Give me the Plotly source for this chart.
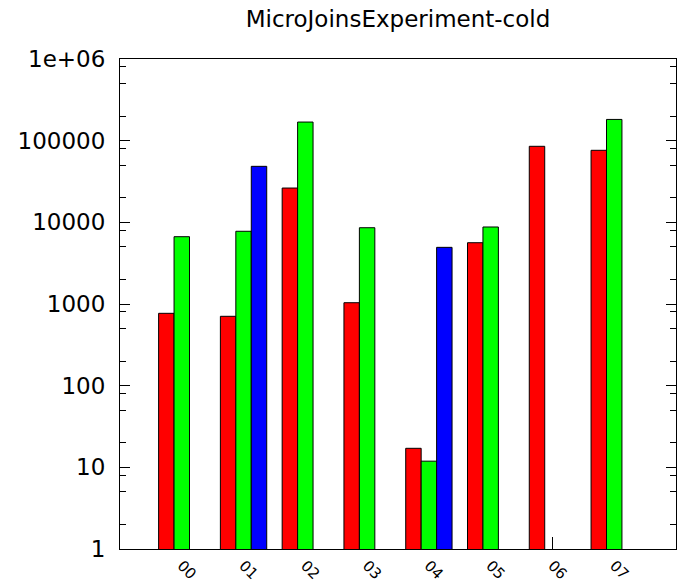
import plotly.graph_objects as go

categories = ["00", "01", "02", "03", "04", "05", "06", "07"]
red_vals = [769, 707, 26300, 1037, 17.1, 5630, 85300, 76200]
green_vals = [6670, 7770, 169000, 8590, 11.9, 8770, None, 182000]
blue_vals = [None, 48500, None, None, 4940, None, None, None]

y_tickvals = [1, 10, 100, 1000, 10000, 100000, 1000000]
y_ticktext = ["1", "10", "100", "1000", "10000", "100000", "1e+06"]
minor_vals = [m * 10 ** d for d in range(6) for m in (2, 5, 8)]

xpos = list(range(len(categories)))

fig = go.Figure()
for vals, col in [(red_vals, "#ff0000"), (green_vals, "#00ff00"), (blue_vals, "#0000ff")]:
    fig.add_trace(go.Bar(
        x=xpos, y=vals, marker=dict(color=col, line=dict(color="black", width=1)),
        showlegend=False,
    ))

FS = 23
W, H = 679, 581
fig.update_layout(
    width=W, height=H,
    margin=dict(l=120, r=3, t=59, b=32, autoexpand=False),
    paper_bgcolor="white", plot_bgcolor="white",
    barmode="group", bargap=0.25, bargroupgap=0,
    font=dict(family="DejaVu Sans", size=FS, color="black"),
    title=dict(text="MicroJoinsExperiment-cold", x=0.5, xref="paper", xanchor="center",
               y=1 - 19 / H, yref="container", yanchor="middle",
               font=dict(family="DejaVu Sans", size=FS, color="black")),
)
fig.update_xaxes(
    range=[-1, 8], tickmode="array", tickvals=xpos, ticktext=categories,
    tickangle=45, ticks="inside", ticklen=12, tickcolor="black", tickwidth=1,
    showline=True, linecolor="black", linewidth=1, mirror=True,
    showgrid=False, zeroline=False, layer="below traces", automargin=False,
    ticklabelstandoff=1,
    tickfont=dict(size=15),
)
fig.update_yaxes(
    type="log", range=[0, 6], tickmode="array", tickvals=y_tickvals, ticktext=y_ticktext,
    ticks="inside", ticklen=10, tickcolor="black", tickwidth=1,
    showline=True, linecolor="black", linewidth=1, mirror="ticks",
    showgrid=False, zeroline=False, ticklabelstandoff=9, automargin=False,
    minor=dict(tickmode="array", tickvals=minor_vals, ticks="inside", ticklen=6,
               tickcolor="black", tickwidth=1, showgrid=False),
    tickfont=dict(size=FS),
)

fig.write_html(
    "out.html",
    config={"displayModeBar": False},
    post_script="document.body.style.margin='0';document.body.style.overflow='hidden';",
)
